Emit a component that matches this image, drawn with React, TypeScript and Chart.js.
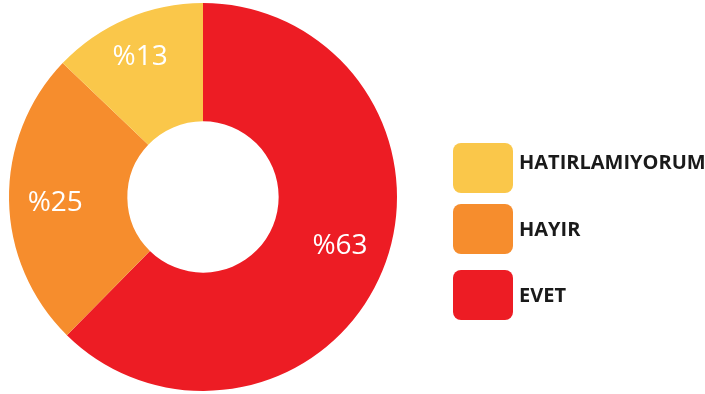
import React, { useEffect, useRef } from "react";
import { Chart, registerables } from "chart.js";

Chart.register(...registerables);

const categories = ["EVET", "HAYIR", "HATIRLAMIYORUM"];
const values = [63, 25, 13];
const valueLabels = ["%63", "%25", "%13"];
const colors = ["#ED1C24", "#F68D2D", "#FAC74A"];
const legendOrder = ["HATIRLAMIYORUM", "HAYIR", "EVET"];

const labelPlugin = {
  id: "sliceLabels",
  afterDatasetsDraw(chart: any) {
    const ctx = chart.ctx;
    const meta = chart.getDatasetMeta(0);
    const radial = [0.59, 0.61, 0.66];
    const turn = [-0.045, -0.028, -0.017];
    ctx.save();
    ctx.fillStyle = "#ffffff";
    ctx.font = "400 28px 'Open Sans'";
    ctx.textAlign = "center";
    ctx.textBaseline = "middle";
    meta.data.forEach((arc: any, i: number) => {
      const p = arc.getProps(["x", "y", "startAngle", "endAngle", "innerRadius", "outerRadius"], true);
      const mid = (p.startAngle + p.endAngle) / 2 + turn[i];
      const r = p.innerRadius + (p.outerRadius - p.innerRadius) * radial[i];
      ctx.fillText(valueLabels[i], p.x + Math.cos(mid) * r, p.y + Math.sin(mid) * r);
    });
    ctx.restore();
  },
};

const legendPlugin = {
  id: "customLegend",
  afterDraw(chart: any) {
    const ctx = chart.ctx;
    const boxX = 453;
    const boxW = 60;
    const boxH = 50;
    const tops = [143, 204, 270];
    const textY = [163, 230, 296];
    ctx.save();
    legendOrder.forEach((name, i) => {
      const idx = categories.indexOf(name);
      ctx.fillStyle = colors[idx];
      ctx.beginPath();
      (ctx as any).roundRect(boxX, tops[i], boxW, boxH, 8);
      ctx.fill();
      ctx.fillStyle = "#1a1a1a";
      ctx.font = "700 20px 'Open Sans'";
      ctx.textAlign = "left";
      ctx.textBaseline = "middle";
      ctx.fillText(name, 519, textY[i]);
    });
    ctx.restore();
  },
};

export default function App() {
  const ref = useRef<HTMLCanvasElement | null>(null);
  useEffect(() => {
    if (!ref.current) return;
    const chart = new Chart(ref.current, {
      type: "doughnut",
      data: {
        labels: categories,
        datasets: [
          {
            data: values,
            backgroundColor: colors,
            borderWidth: 0,
          },
        ],
      },
      options: {
        responsive: false,
        animation: false,
        cutout: "39%",
        layout: { padding: { left: 9, right: 308, top: 3, bottom: 3 } },
        plugins: { legend: { display: false }, tooltip: { enabled: false } },
      },
      plugins: [labelPlugin, legendPlugin],
    });
    return () => chart.destroy();
  }, []);
  return (
    <div style={{ position: "fixed", left: 0, top: 0, width: 705, height: 394, background: "#fff" }}>
      <canvas ref={ref} width={705} height={394} style={{ display: "block" }} />
    </div>
  );
}
